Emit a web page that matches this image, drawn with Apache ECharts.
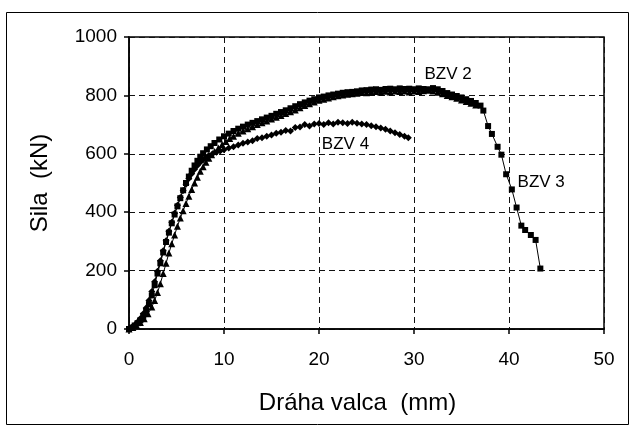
<!DOCTYPE html>
<html>
<head>
<meta charset="utf-8">
<script src="https://cdn.jsdelivr.net/npm/echarts@6/dist/echarts.min.js"></script>
<style>html,body{margin:0;padding:0;background:#fff}#c{width:631px;height:426px}</style>
</head>
<body>
<div id="c"></div>
<script>
// Axis ticks
const xTicks = [0, 10, 20, 30, 40, 50];
const yTicks = [0, 200, 400, 600, 800, 1000];

// BZV 2 (triangles): [displacement mm, force kN]
const bzv2 = [[0,0],[0.4,5],[0.8,12],[1.2,22],[1.6,35],[2.0,52],[2.4,75],[2.7,98],[3.0,125],[3.3,155],[3.6,190],[3.9,225],[4.2,260],[4.5,292],[4.8,322],[5.1,352],[5.4,380],[5.7,405],[6.0,430],[6.3,455],[6.6,478],[6.9,500],[7.2,520],[7.5,540],[7.8,556],[8.1,571],[8.4,585],[8.7,597],[9.0,608],[9.4,620],[9.8,632],[10.2,642],[10.6,652],[11,660],[11.5,670],[12,678],[12.5,686],[13,693],[13.5,700],[14,706],[14.5,712],[15,719],[15.5,725],[16,731],[16.5,738],[17,744],[17.5,750],[18,758],[18.5,765],[19,771],[19.5,777],[20,783],[20.5,787],[21,791],[21.5,795],[22,799],[22.5,801],[23,804],[23.5,806],[24,807],[24.5,810],[25,809],[25.5,812],[26,813],[26.5,811],[27,814],[27.5,812],[28,815],[28.5,813],[29,815],[29.5,812],[30,815],[30.5,813],[31,816],[31.5,818],[32,815],[32.5,811],[33,806],[33.5,800],[34,795],[34.5,790],[35,784],[35.5,779],[36,773],[36.5,767]];

// BZV 3 (squares)
const bzv3 = [[0,0],[0.3,5],[0.6,12],[0.9,20],[1.2,30],[1.5,45],[1.8,62],[2.1,85],[2.4,115],[2.7,150],[3.0,190],[3.3,225],[3.6,262],[3.9,298],[4.2,330],[4.5,362],[4.8,392],[5.1,420],[5.4,448],[5.7,475],[6.0,500],[6.3,522],[6.6,542],[6.9,560],[7.2,576],[7.5,590],[7.8,602],[8.2,615],[8.6,626],[9.0,637],[9.5,649],[10,660],[10.5,669],[11,678],[11.5,686],[12,693],[12.5,700],[13,706],[13.5,712],[14,718],[14.5,724],[15,730],[15.5,737],[16,743],[16.5,749],[17,756],[17.5,763],[18,770],[18.5,776],[19,782],[19.5,787],[20,793],[20.5,796],[21,800],[21.5,803],[22,806],[22.5,809],[23,811],[23.5,812],[24,814],[24.5,817],[25,818],[25.5,820],[26,821],[26.5,819],[27,822],[27.5,823],[28,821],[28.5,824],[29,822],[29.5,823],[30,821],[30.5,824],[31,822],[31.5,821],[32,825],[32.5,821],[33,815],[33.5,808],[34,803],[34.5,798],[35,793],[35.5,787],[36,781],[36.5,774],[37,765],[37.3,748],[37.8,695],[38.2,668],[38.8,624],[39.2,597],[39.7,530],[40.3,478],[40.8,416],[41.3,354],[41.7,339],[42.3,322],[42.8,305],[43.3,207]];

// BZV 4 (diamonds)
const bzv4 = [[0,0],[0.3,6],[0.6,14],[0.9,24],[1.2,36],[1.5,52],[1.8,72],[2.1,98],[2.4,128],[2.7,162],[3.0,198],[3.3,234],[3.6,268],[3.9,302],[4.2,335],[4.5,366],[4.8,396],[5.1,424],[5.4,450],[5.7,474],[6.0,496],[6.3,515],[6.6,532],[6.9,547],[7.2,560],[7.5,571],[7.8,580],[8.1,588],[8.4,594],[8.8,600],[9.2,605],[9.6,610],[10,614],[10.5,620],[11,624],[11.5,630],[12,636],[12.5,640],[13,645],[13.5,652],[14,655],[14.5,660],[15,664],[15.5,670],[16,674],[16.5,680],[17,678],[17.5,690],[18,692],[18.5,700],[19,695],[19.5,702],[20,704],[20.5,700],[21,706],[21.5,702],[22,708],[22.5,706],[23,704],[23.5,708],[24,705],[24.5,702],[25,700],[25.5,696],[26,693],[26.5,688],[27,684],[27.5,678],[28,672],[28.5,666],[29,660],[29.4,655]];

// Curve labels (data coordinates)
const curveLabels = [
  {text: 'BZV 2', at: [31.1, 871]},
  {text: 'BZV 4', at: [20.3, 632]},
  {text: 'BZV 3', at: [40.9, 502]}
];

const FONT = '"Liberation Sans", Arial, sans-serif';
const chart = echarts.init(document.getElementById('c'), null, {renderer: 'canvas'});

function mkSeries(name, data, symbol, size) {
  return {
    name, type: 'line', data, symbol, symbolSize: size,
    showAllSymbol: true,
    lineStyle: {color: '#000', width: 1},
    itemStyle: {color: '#000', borderWidth: 0},
    emphasis: {disabled: true},
    silent: true
  };
}

chart.setOption({
  animation: false,
  backgroundColor: '#fff',
  grid: {left: 129, right: 27, top: 37, bottom: 97, show: true, borderColor: '#000', borderWidth: 1.5, backgroundColor: 'transparent'},
  xAxis: {
    type: 'value', min: xTicks[0], max: xTicks[xTicks.length - 1], interval: 10,
    name: 'Dráha valca  (mm)', nameLocation: 'middle', nameGap: 62,
    nameTextStyle: {fontFamily: FONT, fontSize: 24, color: '#000', padding: [0, 18, 0, 0]},
    axisLine: {show: true, onZero: false, lineStyle: {color: '#000', width: 1.5}},
    axisTick: {show: true, inside: false, length: 5, lineStyle: {color: '#000', width: 1.5}},
    axisLabel: {fontFamily: FONT, fontSize: 19, color: '#000', margin: 21},
    splitLine: {show: true, lineStyle: {color: '#111', width: 1, type: [6, 4]}}
  },
  yAxis: {
    type: 'value', min: yTicks[0], max: yTicks[yTicks.length - 1], interval: 200,
    name: 'Sila  (kN)', nameLocation: 'middle', nameGap: 77,
    nameTextStyle: {fontFamily: FONT, fontSize: 24, color: '#000'},
    axisLine: {show: true, onZero: false, lineStyle: {color: '#000', width: 1.5}},
    axisTick: {show: true, inside: false, length: 5, lineStyle: {color: '#000', width: 1.5}},
    axisLabel: {fontFamily: FONT, fontSize: 19, color: '#000', margin: 12, formatter: v => String(v)},
    splitLine: {show: true, lineStyle: {color: '#111', width: 1, type: [6, 4]}}
  },
  series: [
    mkSeries('BZV 4', bzv4, 'diamond', 7),
    mkSeries('BZV 2', bzv2, 'triangle', 7),
    mkSeries('BZV 3', bzv3, 'rect', 6)
  ]
});

const gfx = [{
  type: 'rect', silent: true,
  shape: {x: 6.5, y: 12.5, width: 622, height: 412},
  style: {fill: 'none', stroke: '#000', lineWidth: 1}
}];
curveLabels.forEach(l => {
  const p = chart.convertToPixel({gridIndex: 0}, l.at);
  gfx.push({type: 'text', silent: true, x: p[0], y: p[1], z: 100,
    style: {text: l.text, font: '17px ' + FONT, fill: '#000', verticalAlign: 'middle', align: 'left'}});
});
chart.setOption({graphic: gfx});
</script>
</body>
</html>
